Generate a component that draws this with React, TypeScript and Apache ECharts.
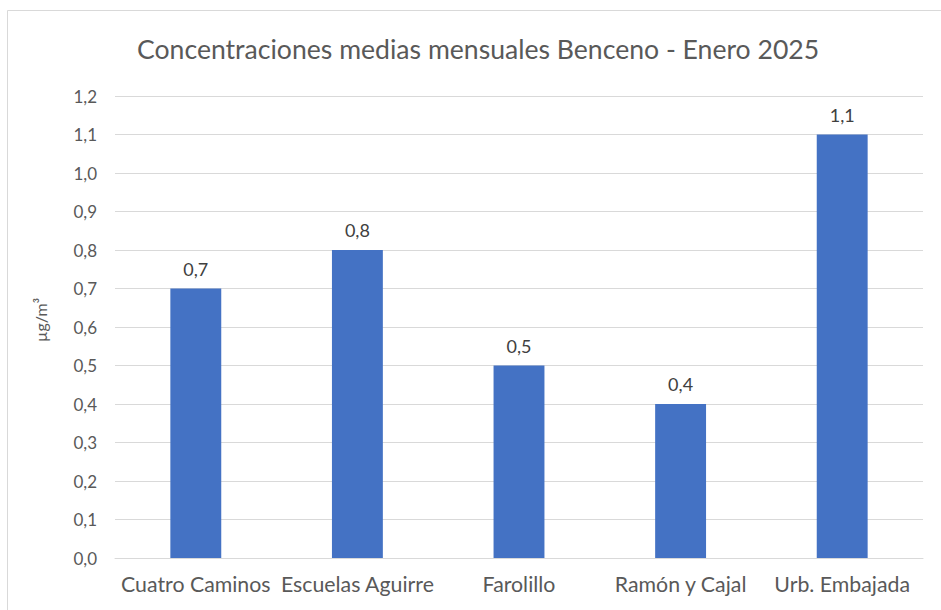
import React, { useEffect, useRef } from "react";
import * as echarts from "echarts";

const categories = ["Cuatro Caminos", "Escuelas Aguirre", "Farolillo", "Ramón y Cajal", "Urb. Embajada"];
const values = [0.7, 0.8, 0.5, 0.4, 1.1];
const titleText = "Concentraciones medias mensuales Benceno - Enero 2025";
const yAxisName = "µg/m³";

const fmt = (v: number) => v.toFixed(1).replace(".", ",");

export default function App() {
  const ref = useRef<HTMLDivElement>(null);
  useEffect(() => {
    if (!ref.current) return;
    const chart = echarts.init(ref.current, null, { renderer: "svg" });
    chart.setOption({
      animation: false,
      backgroundColor: "#ffffff",
      textStyle: { fontFamily: "Lato" },
      title: {
        text: titleText,
        left: 132,
        top: 30,
        textStyle: { fontFamily: "Lato", fontSize: 26.6, fontWeight: "normal", color: "#595959" },
      },
      graphic: [
        {
          type: "rect",
          shape: { x: 7.5, y: 10.5, width: 1000, height: 1000 },
          style: { fill: "none", stroke: "#d9d9d9", lineWidth: 1 },
          silent: true,
        },
        {
          type: "text",
          x: 40,
          y: 320,
          rotation: Math.PI / 2,
          style: {
            text: yAxisName,
            fontFamily: "Lato",
            fontSize: 16,
            fill: "#595959",
            align: "center",
            verticalAlign: "middle",
          },
        },
      ],
      grid: { left: 115, right: 18, top: 96, bottom: 52, containLabel: false },
      xAxis: {
        type: "category",
        data: categories,
        axisLine: { show: true, lineStyle: { color: "#d9d9d9", width: 1 } },
        axisTick: { show: false },
        axisLabel: { fontFamily: "Lato", fontSize: 21.3, color: "#595959", margin: 15, interval: 0 },
      },
      yAxis: {
        type: "value",
        min: 0,
        max: 1.2,
        interval: 0.1,
        axisLine: { show: false },
        axisTick: { show: false },
        axisLabel: { fontFamily: "Lato", fontSize: 17, color: "#595959", margin: 18, formatter: (v: number) => fmt(v) },
        splitLine: { lineStyle: { color: "#d9d9d9", width: 1 } },
      },
      series: [
        {
          type: "bar",
          data: values,
          barWidth: "31.5%",
          itemStyle: { color: "#4472c4" },
          label: {
            show: true,
            position: "top",
            distance: 11,
            fontFamily: "Lato",
            fontSize: 18,
            color: "#404040",
            formatter: (p: any) => fmt(p.value),
          },
        },
      ],
    });
    return () => chart.dispose();
  }, []);
  return <div ref={ref} style={{ position: "absolute", left: 0, top: 0, width: 941, height: 610 }} />;
}
